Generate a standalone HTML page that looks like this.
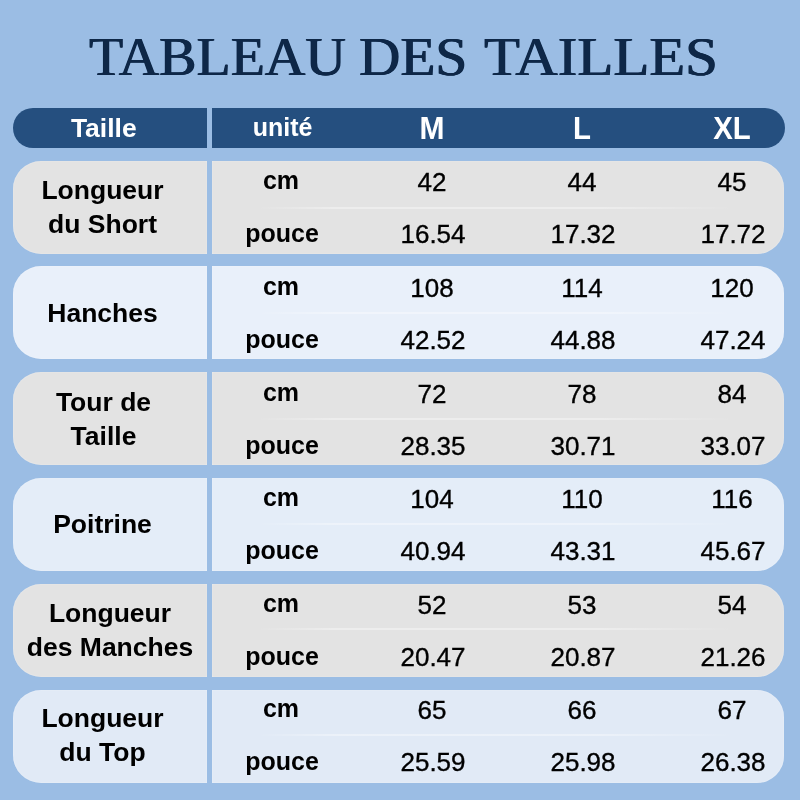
<!DOCTYPE html>
<html lang="fr"><head><meta charset="utf-8"><title>Tableau des tailles</title>
<style>
html,body{margin:0;padding:0}
body{width:800px;height:800px;background:#9bbde4;position:relative;overflow:hidden;font-family:"Liberation Sans",sans-serif;color:#000}
.title{position:absolute;top:0;left:0;width:800px;height:100px;color:#0e2747;font-family:"Liberation Serif","DejaVu Serif",serif}
.title span{text-shadow:0.55px 0 0 #0e2747,-0.55px 0 0 #0e2747;position:absolute;white-space:nowrap;transform-origin:0 0;font-size:54px;line-height:54px;top:30px}
.hl,.hr{position:absolute;top:108px;height:40px;background:#254f7f;color:#fff;font-weight:bold}
.hl{left:13px;width:194px;border-radius:20px 0 0 20px}
.hr{left:212px;width:573px;border-radius:0 20px 20px 0}
.c{position:absolute;white-space:nowrap;text-align:center;transform:translateX(-50%)}
.rl,.rr{position:absolute;height:93px;box-shadow:inset 0 0 1.5px rgba(255,255,255,.55)}
.rl{left:13px;width:194px;border-radius:28px 0 0 28px}
.rr{left:212px;width:572px;border-radius:0 27px 27px 0}
.g{background:#e3e3e3}
.b{background:#e4edf8}
.b2{background:#e9f0fa}
.b6{background:#e1eaf6}
.name{position:absolute;left:0;width:181px;text-align:center;font-weight:bold;font-size:26.5px;line-height:33.5px}
.u{font-weight:bold;font-size:25px;line-height:30px}
.n{font-size:26px;line-height:30px;-webkit-text-stroke:0.35px #000}
.div{position:absolute;left:45px;width:478px;height:2px;top:46px;background:linear-gradient(90deg,rgba(255,255,255,0),rgba(255,255,255,.36) 16%,rgba(255,255,255,.36) 72%,rgba(255,255,255,0))}
</style></head><body>
<div class="title"><span id="t1" style="left:89px;transform:scaleX(1.037)">TABLEAU</span><span id="t2" style="left:359px;transform:scaleX(1.062)">DES</span><span id="t3" style="left:484px;transform:scaleX(1.09)">TAILLES</span></div>
<div class="hl"><div class="c" style="left:90.8px;top:4px;font-size:26.5px;line-height:32px">Taille</div></div>
<div class="hr">
<div class="c" style="left:70.6px;top:4px;font-size:25px;line-height:30px">unité</div>
<div class="c" style="left:220px;top:2px;font-size:30px;line-height:36px;transform:translateX(-50%) scaleY(1.045);transform-origin:50% 22%">M</div>
<div class="c" style="left:370px;top:2px;font-size:29.4px;line-height:36px;transform:translateX(-50%) scaleY(1.06);transform-origin:50% 30%">L</div>
<div class="c" style="left:520px;top:2px;font-size:29.4px;line-height:36px;transform:translateX(-50%) scaleY(1.06);transform-origin:50% 30%">XL</div>
</div>

<div class="rl g" style="top:161px"><div class="name" style="top:13px;left:-1px">Longueur<br>du Short</div></div>
<div class="rr g" style="top:161px"><div class="div" style="top:46px"></div>
<div class="c u" style="left:69px;top:4px">cm</div><div class="c u" style="left:70px;top:57px">pouce</div>
<div class="c n" style="left:220px;top:6px">42</div><div class="c n" style="left:221px;top:58px">16.54</div>
<div class="c n" style="left:370px;top:6px">44</div><div class="c n" style="left:371px;top:58px">17.32</div>
<div class="c n" style="left:520px;top:6px">45</div><div class="c n" style="left:521px;top:58px">17.72</div>
</div>
<div class="rl b b2" style="top:266px"><div class="name" style="top:31px;left:-1px">Hanches</div></div>
<div class="rr b b2" style="top:266px"><div class="div" style="top:46px"></div>
<div class="c u" style="left:69px;top:5px">cm</div><div class="c u" style="left:70px;top:58px">pouce</div>
<div class="c n" style="left:220px;top:7px">108</div><div class="c n" style="left:221px;top:59px">42.52</div>
<div class="c n" style="left:370px;top:7px">114</div><div class="c n" style="left:371px;top:59px">44.88</div>
<div class="c n" style="left:520px;top:7px">120</div><div class="c n" style="left:521px;top:59px">47.24</div>
</div>
<div class="rl g" style="top:372px"><div class="name" style="top:14px;left:0px">Tour de<br>Taille</div></div>
<div class="rr g" style="top:372px"><div class="div" style="top:46px"></div>
<div class="c u" style="left:69px;top:5px">cm</div><div class="c u" style="left:70px;top:58px">pouce</div>
<div class="c n" style="left:220px;top:7px">72</div><div class="c n" style="left:221px;top:59px">28.35</div>
<div class="c n" style="left:370px;top:7px">78</div><div class="c n" style="left:371px;top:59px">30.71</div>
<div class="c n" style="left:520px;top:7px">84</div><div class="c n" style="left:521px;top:59px">33.07</div>
</div>
<div class="rl b" style="top:478px"><div class="name" style="top:30px;left:-1px">Poitrine</div></div>
<div class="rr b" style="top:478px"><div class="div" style="top:45px"></div>
<div class="c u" style="left:69px;top:4px">cm</div><div class="c u" style="left:70px;top:57px">pouce</div>
<div class="c n" style="left:220px;top:6px">104</div><div class="c n" style="left:221px;top:58px">40.94</div>
<div class="c n" style="left:370px;top:6px">110</div><div class="c n" style="left:371px;top:58px">43.31</div>
<div class="c n" style="left:520px;top:6px">116</div><div class="c n" style="left:521px;top:58px">45.67</div>
</div>
<div class="rl g" style="top:584px"><div class="name" style="top:13px;left:6.5px">Longueur<br>des Manches</div></div>
<div class="rr g" style="top:584px"><div class="div" style="top:44px"></div>
<div class="c u" style="left:69px;top:4px">cm</div><div class="c u" style="left:70px;top:57px">pouce</div>
<div class="c n" style="left:220px;top:6px">52</div><div class="c n" style="left:221px;top:58px">20.47</div>
<div class="c n" style="left:370px;top:6px">53</div><div class="c n" style="left:371px;top:58px">20.87</div>
<div class="c n" style="left:520px;top:6px">54</div><div class="c n" style="left:521px;top:58px">21.26</div>
</div>
<div class="rl b b6" style="top:690px"><div class="name" style="top:12px;left:-1px">Longueur<br>du Top</div></div>
<div class="rr b b6" style="top:690px"><div class="div" style="top:44px"></div>
<div class="c u" style="left:69px;top:3px">cm</div><div class="c u" style="left:70px;top:56px">pouce</div>
<div class="c n" style="left:220px;top:5px">65</div><div class="c n" style="left:221px;top:57px">25.59</div>
<div class="c n" style="left:370px;top:5px">66</div><div class="c n" style="left:371px;top:57px">25.98</div>
<div class="c n" style="left:520px;top:5px">67</div><div class="c n" style="left:521px;top:57px">26.38</div>
</div>
</body></html>
